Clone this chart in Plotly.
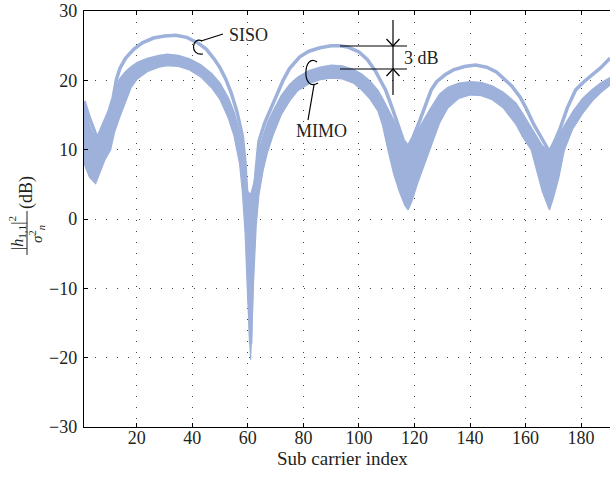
import plotly.graph_objects as go

# ---------------- data ----------------
siso_x = [1, 3, 5.8, 8, 10, 11.5, 12.7, 14, 16, 19, 22, 26, 30, 34, 38, 42, 45, 48, 50, 52,
          54, 56, 58, 59, 60, 61, 62, 63, 64, 66, 68, 70, 72.7, 75, 78.7, 82, 86, 90, 93, 96,
          100, 103, 106, 108, 109.6, 112, 114, 116, 117.7, 119.5, 122, 124, 126, 128, 131, 134,
          138, 142, 146, 149.5, 152, 155, 158, 160.3, 163, 165, 167, 168.6, 170, 172.2, 175, 178,
          181, 184, 187, 190.4]
siso_db = [17.0, 14.5, 11.6, 13.5, 15.5, 17.5, 20.2, 21.8, 23.2, 24.5, 25.4, 26.1, 26.4, 26.5,
           26.2, 25.4, 24.5, 23.0, 21.8, 20.2, 18.2, 15.6, 12.0, 8.0, -1.0, -18.0, -1.0, 7.0,
           11.2, 13.8, 15.6, 17.6, 20.0, 21.7, 23.4, 24.2, 24.7, 25.0, 25.0, 24.8, 24.1, 23.0,
           21.3, 19.8, 18.6, 16.0, 13.6, 11.3, 10.4, 11.8, 14.3, 16.6, 18.6, 19.8, 20.8, 21.5,
           22.0, 22.2, 21.9, 21.2, 20.3, 19.2, 17.6, 15.9, 13.6, 12.2, 10.6, 9.7, 10.8, 12.8,
           16.0, 18.6, 19.8, 20.8, 21.8, 23.2]

mimo_x = [1, 3, 5.2, 6.5, 8.5, 10.6, 12, 13.7, 16, 18, 20.2, 24, 28, 31, 35, 39, 43, 47, 50, 53,
          55, 57, 58, 59, 60, 61, 62, 63, 64, 65.5, 67, 69, 72, 75, 78, 82, 86, 90, 94, 98,
          101, 104, 106.8, 108.5, 110.4, 112.5, 114.5, 116.5, 117.7, 119, 121, 123, 125.5, 129,
          132, 136, 140, 144, 148, 152, 156.6, 159, 162, 164, 166, 168.6, 170, 172, 174, 177,
          180.5, 184, 187, 190.4]
mimo_hi_db = [16.5, 13.5, 11.5, 11.8, 14.0, 16.5, 18.5, 20.2, 21.3, 22.0, 22.6, 23.2, 23.6, 23.8,
              23.6, 23.1, 22.3, 21.0, 19.6, 17.5, 15.5, 12.5, 10.5, 8.0, 4.0, 3.5, 5.0, 7.5,
              10.0, 12.0, 13.8, 15.5, 17.8, 19.4, 20.5, 21.4, 21.9, 22.2, 22.1, 21.6, 20.9,
              19.9, 18.6, 17.4, 16.0, 14.3, 12.6, 11.0, 10.4, 11.3, 12.8, 14.2, 15.8, 18.0,
              19.0, 19.6, 19.8, 19.7, 19.2, 18.3, 16.7, 15.2, 13.3, 11.9, 10.6, 9.7, 10.5, 12.0,
              13.5, 15.5, 17.4, 18.7, 19.6, 20.4]
mimo_lo_db = [8.0, 6.0, 5.1, 6.5, 8.5, 10.0, 12.5, 14.5, 17.0, 19.0, 20.2, 21.3, 21.9, 22.1,
              22.0, 21.5, 20.5, 18.9, 17.2, 14.5, 12.0, 8.0, 4.0, -2.0, -12.0, -20.3, -9.5,
              -1.0, 3.5, 7.0, 9.5, 12.0, 15.0, 17.0, 18.5, 19.5, 20.1, 20.3, 20.2, 19.6, 18.6,
              17.3, 15.6, 13.5, 10.0, 6.5, 4.0, 2.0, 1.3, 2.5, 5.0, 7.2, 10.0, 13.8, 16.0, 17.4,
              17.9, 17.8, 17.2, 16.0, 13.6, 11.8, 10.0, 7.0, 4.0, 1.3, 3.0, 6.0, 10.0, 13.0,
              15.2, 17.0, 18.2, 19.3]

x_ticks = [20, 40, 60, 80, 100, 120, 140, 160, 180]
y_ticks = [-30, -20, -10, 0, 10, 20, 30]

# ---------------- style ----------------
W, H = 610, 488
L, R, T, B = 84, 0, 11, 61
BAND = "#9DB1DA"
FONT = "Liberation Serif"
TXT = "#231f20"

X0, X1 = 1, 190.4
Y0, Y1 = -30, 30


def dx(px):
    return X0 + (px - L) * (X1 - X0) / (W - L - R)


def dy(py):
    return Y1 - (py - T) * (Y1 - Y0) / (H - T - B)


def pxp(px):
    return (px - L) / (W - L - R)


def pyp(py):
    return (H - B - py) / (H - T - B)


fig = go.Figure()
fig.add_trace(go.Scatter(x=mimo_x, y=mimo_lo_db, mode="lines",
                         line=dict(color=BAND, width=1.2), showlegend=False, hoverinfo="skip"))
fig.add_trace(go.Scatter(x=mimo_x, y=mimo_hi_db, mode="lines", fill="tonexty", fillcolor=BAND,
                         line=dict(color=BAND, width=1.2), showlegend=False, hoverinfo="skip"))
fig.add_trace(go.Scatter(x=siso_x, y=siso_db, mode="lines",
                         line=dict(color=BAND, width=3.5), showlegend=False, hoverinfo="skip"))

shapes = []
blk = dict(color="black", width=1.2)
# SISO pointer
shapes.append(dict(type="path", xref="x", yref="y",
                   path=f"M {dx(202)},{dy(41)} C {dx(192)},{dy(36)} {dx(189)},{dy(56)} {dx(203)},{dy(54)}",
                   line=blk))
shapes.append(dict(type="line", xref="x", yref="y", x0=dx(201), y0=dy(41), x1=dx(223), y1=dy(34), line=blk))
# MIMO pointer
shapes.append(dict(type="path", xref="x", yref="y",
                   path=f"M {dx(317)},{dy(62)} C {dx(303)},{dy(52)} {dx(301)},{dy(93)} {dx(318)},{dy(83)}",
                   line=blk))
shapes.append(dict(type="line", xref="x", yref="y", x0=dx(314), y0=dy(85), x1=dx(308), y1=dy(120), line=blk))
# 3 dB dimension
shapes.append(dict(type="line", xref="x", yref="y", x0=dx(340), y0=dy(46), x1=dx(407), y1=dy(46), line=blk))
shapes.append(dict(type="line", xref="x", yref="y", x0=dx(340), y0=dy(69), x1=dx(407), y1=dy(69), line=blk))
shapes.append(dict(type="line", xref="x", yref="y", x0=dx(393), y0=dy(20), x1=dx(393), y1=dy(95), line=blk))
shapes.append(dict(type="path", xref="x", yref="y",
                   path=f"M {dx(386.5)},{dy(39)} L {dx(393)},{dy(46)} L {dx(399.5)},{dy(39)}", line=blk))
shapes.append(dict(type="path", xref="x", yref="y",
                   path=f"M {dx(386.5)},{dy(76)} L {dx(393)},{dy(69)} L {dx(399.5)},{dy(76)}", line=blk))
# fraction bar of y title
shapes.append(dict(type="line", xref="paper", yref="paper", x0=pxp(27), y0=pyp(211), x1=pxp(27), y1=pyp(255),
                   line=dict(color=TXT, width=1)))

ann = []
af = dict(family=FONT, size=18, color=TXT)
C = dict(xanchor="center", yanchor="middle", showarrow=False)
ann.append(dict(text="SISO", x=dx(248), y=dy(35), xref="x", yref="y", font=af, **C))
ann.append(dict(text="MIMO", x=dx(321), y=dy(131), xref="x", yref="y", font=af, **C))
ann.append(dict(text="3 dB", x=dx(402), y=dy(58), xref="x", yref="y", font=af, showarrow=False,
                xanchor="left", yanchor="middle"))
ann.append(dict(text="Sub carrier index", x=pxp(342), y=pyp(458), xref="paper", yref="paper",
                font=dict(family=FONT, size=19, color=TXT), **C))
ann.append(dict(text="|<i>h</i><sub>1,1</sub>|<sup>2</sup>", x=pxp(17), y=pyp(233), xref="paper",
                yref="paper", textangle=-90, font=dict(family=FONT, size=16, color=TXT), **C))
ann.append(dict(text="<i>σ</i><sup>2</sup><sub><i>n</i></sub>", x=pxp(37), y=pyp(234), xref="paper",
                yref="paper", textangle=-90, font=dict(family=FONT, size=15, color=TXT), **C))
ann.append(dict(text="(dB)", x=pxp(26), y=pyp(193), xref="paper", yref="paper",
                textangle=-90, font=dict(family=FONT, size=18, color=TXT), **C))

grid = dict(showgrid=True, gridcolor="#444", gridwidth=1, griddash="1px,10px")
fig.update_layout(
    width=W, height=H, margin=dict(l=L, r=R, t=T, b=B),
    paper_bgcolor="white", plot_bgcolor="white",
    shapes=shapes, annotations=ann,
    font=dict(family=FONT, size=18, color=TXT),
    xaxis=dict(range=[X0, X1], tickvals=x_ticks, ticks="inside", ticklen=4, tickcolor="black",
               showline=True, linecolor="black", linewidth=1.3, mirror="ticks", zeroline=False,
               ticklabelstandoff=-6, **grid),
    yaxis=dict(range=[Y0, Y1], tickvals=y_ticks, ticks="inside", ticklen=4, tickcolor="black",
               showline=True, linecolor="black", linewidth=1.3, mirror=False, zeroline=False,
               ticklabelstandoff=2, **grid),
)
fig.write_html("out.html")
